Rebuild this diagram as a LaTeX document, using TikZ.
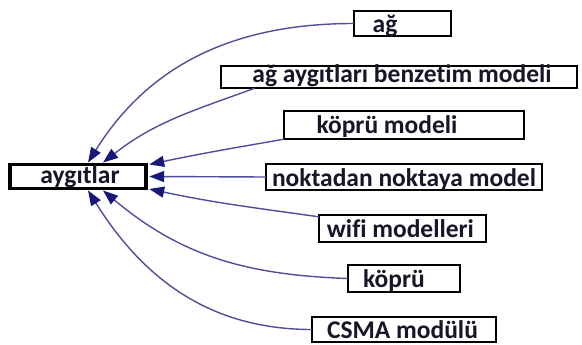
\documentclass[tikz,border=0pt]{standalone}
\usepackage{fontspec}
\setmainfont{Carlito}[RawFeature={-liga}]
\usetikzlibrary{arrows.meta,calc}
\definecolor{lineblue}{RGB}{78,78,155}
\definecolor{arrnavy}{RGB}{24,24,120}
\definecolor{txt}{RGB}{22,22,40}
\newcommand{\shtxt}[2]{\makebox[0pt]{\hspace*{#1pt}#2}}
\begin{document}
\begin{tikzpicture}[x=1pt,y=-1pt,
  bx/.style={draw=black,fill=white,line width=1.6pt,inner sep=0pt,outer sep=0pt,
    font=\fontsize{25.5}{28}\selectfont\bfseries,text=txt,text height=20pt,text depth=2pt},
  conn/.style={draw=lineblue,line width=1.4pt,-{Triangle[length=15pt,width=11pt,color=arrnavy]}}]
\useasboundingbox (0,0) rectangle (582,345);
\node[bx,line width=3.6pt,minimum width=136.4pt,minimum height=23.9pt,text height=18pt,text depth=4pt] (ayg) at (78,176.5) {\shtxt{4}{aygıtlar}};
\node[bx,minimum width=97.4pt,minimum height=25.4pt] (ag) at (402.5,23.5) {\shtxt{-35}{ağ}};
\node[bx,minimum width=356.4pt,minimum height=22.4pt,text height=17pt,text depth=5pt] (aat) at (399,77) {\shtxt{6}{ağ aygıtları benzetim modeli}};
\node[bx,minimum width=240.4pt,minimum height=28.4pt] (kopm) at (404,125) {\shtxt{-34}{köprü modeli}};
\node[bx,minimum width=276.4pt,minimum height=26.4pt] (nok) at (404,177) {\shtxt{0}{noktadan noktaya model}};
\node[bx,minimum width=167.4pt,minimum height=27.4pt] (wifi) at (402.5,228.5) {\shtxt{-4}{wifi modelleri}};
\node[bx,minimum width=112.4pt,minimum height=27.4pt] (kop) at (404,278.5) {\shtxt{-20}{köprü}};
\node[bx,minimum width=184.4pt,minimum height=25.4pt] (csma) at (404,329.5) {\shtxt{-3}{CSMA modülü}};
% connectors
\draw[conn] (ag.west) to[out=180,in=58] ($(ayg.north)+(10,-2)$);
\draw[conn] ($(aat.south west)+(34,0)$) to[out=200,in=38] ($(ayg.north)+(25,-2)$);
\draw[conn] (kopm.south west) to[out=190,in=12] ($(ayg.east)+(3,-12)$);
\draw[conn] (nok.west) -- ($(ayg.east)+(3,0)$);
\draw[conn] ($(wifi.north west)+(0,2)$) to[out=172,in=-12] ($(ayg.east)+(3,12.5)$);
\draw[conn] (kop.west) to[out=178,in=-40] ($(ayg.south)+(25,2)$);
\draw[conn] (csma.west) to[out=180,in=-58] ($(ayg.south)+(10,2)$);
\end{tikzpicture}
\end{document}
